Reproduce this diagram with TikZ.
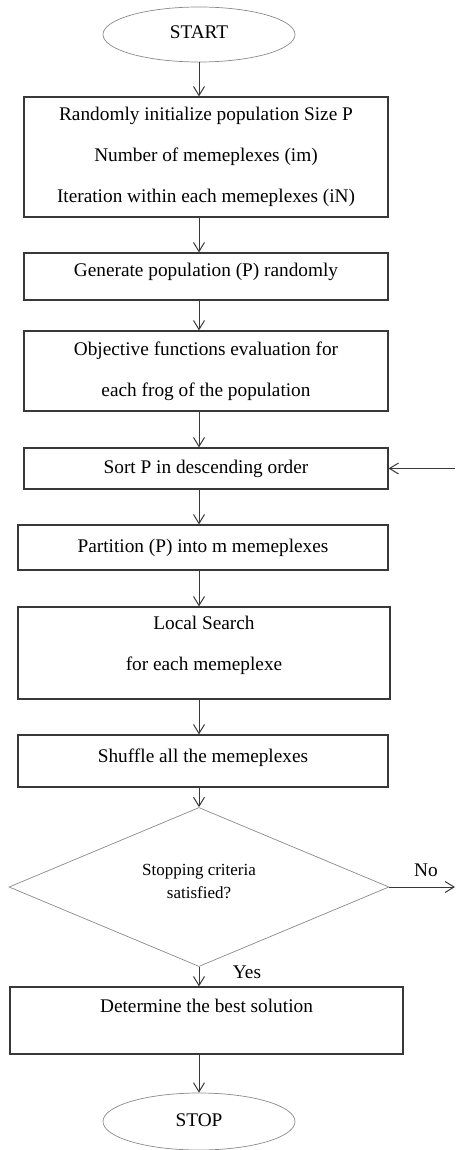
\documentclass[tikz,border=0pt]{standalone}
\usepackage{fontspec}
\setmainfont{Liberation Serif}
\usepackage{tikz}
\usetikzlibrary{arrows.meta}
\usetikzlibrary{shapes,positioning}
\definecolor{boxLine}{HTML}{383838}
\definecolor{termLine}{HTML}{8A8A8A}
\tikzset{flow-box/.style={draw=boxLine, line width=1.2pt, rectangle, inner sep=0pt, align=center}}
\tikzset{flow-line/.style={text height=13pt, text depth=#1}, flow-line/.default=4pt}
\tikzset{flow-term/.style={draw=termLine, line width=0.7pt, ellipse, minimum width=192pt, minimum height=55pt, inner sep=0pt}}
\tikzset{flow-cond/.style={draw=termLine, line width=0.7pt, diamond, minimum width=380pt, minimum height=130pt, inner sep=0pt, align=center, font=\fontsize{17}{23}\selectfont}}
\tikzset{flow-arrow/.style={->, draw=boxLine, line width=1pt}}
\tikzset{>={Straight Barb[length=9pt,width=11pt]}}

\begin{document}
\begin{tikzpicture}[x=1pt, y=-1pt, font=\fontsize{19.3}{41}\selectfont]
    \useasboundingbox (0,0) rectangle (455,1150);
    \node [flow-term, flow-line] (start) at (199,34.5) {START};
    \node [flow-box, minimum width=364pt, minimum height=120pt] (init) at (206,157)
        {Randomly initialize population Size P\\Number of memeplexes (im)\\Iteration within each memeplexes (iN)};
    \node [flow-box, flow-line=13pt, minimum width=364pt, minimum height=47pt] (generate) at (206,276.5)
        {Generate population (P) randomly};
    \node [flow-box, minimum width=364pt, minimum height=80pt] (evaluate) at (206,371)
        {Objective functions evaluation for\\each frog of the population};
    \node [flow-box, flow-line, minimum width=364pt, minimum height=41pt] (sort) at (206,468.5)
        {Sort P in descending order};
    \node [flow-box, flow-line, minimum width=370pt, minimum height=45pt] (partition) at (203,547.5)
        {Partition (P) into m memeplexes};
    \node [flow-box, text depth=20pt, minimum width=372pt, minimum height=92pt] (local) at (204,653)
        {Local Search\\for each memeplexe};
    \node [flow-box, flow-line=10pt, minimum width=370pt, minimum height=52pt] (shuffle) at (203,761)
        {Shuffle all the memeplexes};
    \node [flow-cond, text depth=11pt] (check) at (199,887) {Stopping criteria\\satisfied?};
    \node [flow-box, flow-line=29pt, minimum width=393pt, minimum height=67pt] (best) at (206.5,1020.5)
        {Determine the best solution};
    \node [flow-term, flow-line, minimum height=57pt] (stop) at (199,1121.5) {STOP};

    \coordinate (no-end) at (455,887);
    \coordinate (loop-in) at (455,468.5);
    \node [flow-line] (no-label) at (426,872) {No};
    \node [flow-line] (yes-label) at (247,974) {Yes};

    \draw [flow-arrow] (start) -- (start |- init.north);
    \draw [flow-arrow] (start |- init.south) -- (start |- generate.north);
    \draw [flow-arrow] (start |- generate.south) -- (start |- evaluate.north);
    \draw [flow-arrow] (start |- evaluate.south) -- (start |- sort.north);
    \draw [flow-arrow] (start |- sort.south) -- (start |- partition.north);
    \draw [flow-arrow] (start |- partition.south) -- (start |- local.north);
    \draw [flow-arrow] (start |- local.south) -- (start |- shuffle.north);
    \draw [flow-arrow] (start |- shuffle.south) -- (check.north);
    \draw [flow-arrow] (check.east) -- (no-end);
    \draw [flow-arrow] (check.south) -- (check.south |- best.north);
    \draw [flow-arrow] (start |- best.south) -- (stop);
    \draw [flow-arrow] (loop-in) -- (sort.east);
\end{tikzpicture}
\end{document}
